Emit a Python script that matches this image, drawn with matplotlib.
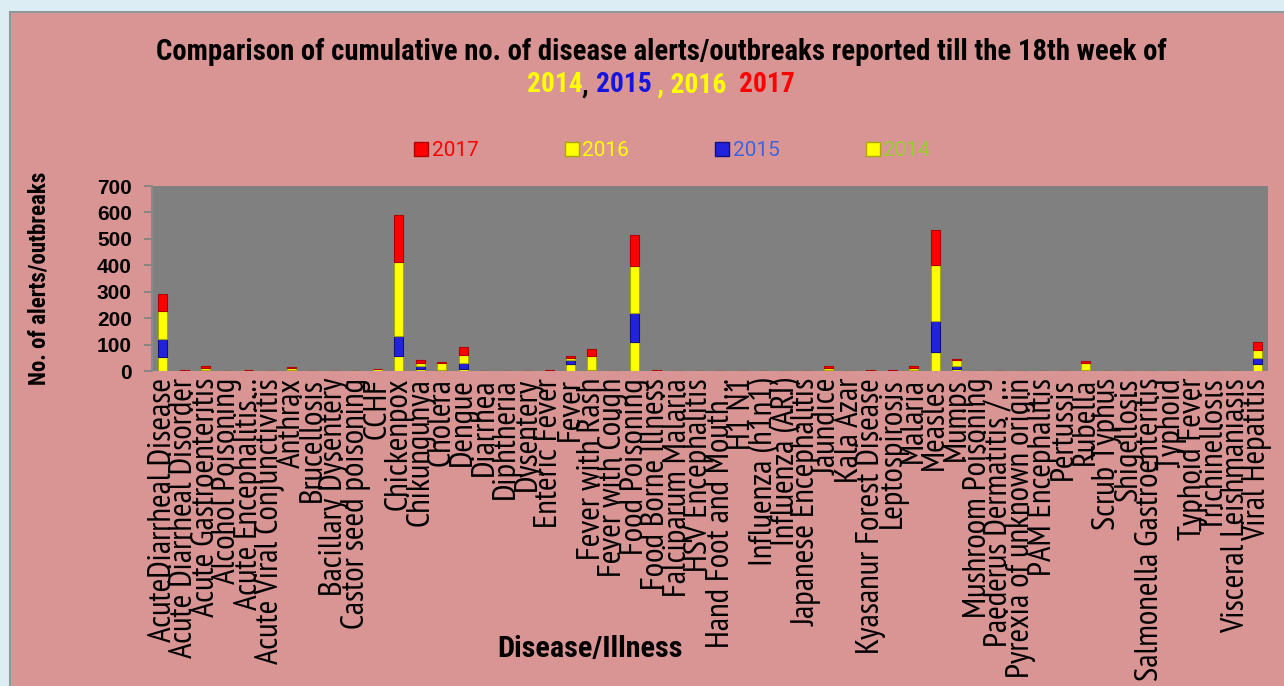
import matplotlib
matplotlib.use("Agg")
import matplotlib.pyplot as plt
from matplotlib.patches import Rectangle
from matplotlib.lines import Line2D
from matplotlib.text import Text
import numpy as np

categories = [
    "AcuteDiarrheal Disease", "Acute Diarrheal Disorder", "Acute Gastroenteritis",
    "Alcohol Poisoning", "Acute Encephalitis…", "Acute Viral Conjunctivitis",
    "Anthrax", "Brucellosis", "Bacillary Dysentery", "Castor seed poisoning",
    "CCHF", "Chickenpox", "Chikungunya", "Cholera", "Dengue", "Diarrhea",
    "Diphtheria", "Dysentery", "Enteric Fever", "Fever", "Fever with Rash",
    "Fever with Cough", "Food Poisoning", "Food Borne Illness",
    "Falciparum Malaria", "HSV Encephalitis", "Hand Foot and Mouth…", "H1 N1",
    "Influenza (h1n1)", "Influenza (ARI)", "Japanese Encephalitis", "Jaundice",
    "Kala Azar", "Kyasanur Forest Disease", "Leptospirosis", "Malaria",
    "Measles", "Mumps", "Mushroom Poisoning", "Paederus Dermatitis /…",
    "Pyrexia of unknown origin", "PAM Encephalitis", "Pertussis", "Rubella",
    "Scrub Typhus", "Shigellosis", "Salmonella Gastroenteritis", "Typhoid",
    "Typhoid Fever", "Trichinellosis", "Visceral Leishmaniasis", "Viral Hepatitis",
]

y2014 = [52, 0, 2, 0, 1, 0, 2, 0, 0, 0, 1, 57, 9, 1, 9, 0, 0, 0, 0, 28, 3, 0, 109, 0,
         0, 0, 0, 0, 0, 0, 0, 3, 0, 0, 0, 4, 71, 6, 0, 0, 0, 0, 0, 4, 0, 0, 0, 0, 0, 0, 0, 28]
y2015 = [69, 0, 0, 0, 0, 0, 0, 0, 0, 0, 0, 75, 10, 3, 21, 0, 0, 0, 0, 13, 2, 0, 112, 0,
         0, 0, 0, 0, 0, 0, 0, 0, 0, 0, 0, 1, 119, 12, 0, 0, 0, 0, 0, 0, 0, 0, 0, 0, 0, 0, 0, 23]
y2016 = [106, 1, 10, 1, 1, 1, 9, 1, 0, 0, 5, 281, 10, 28, 32, 1, 1, 0, 1, 8, 51, 1, 177, 1,
         0, 0, 1, 0, 0, 0, 1, 10, 1, 1, 1, 8, 210, 22, 1, 0, 0, 0, 0, 28, 1, 0, 0, 1, 0, 0, 1, 30]
y2017 = [63, 2, 6, 0, 0, 0, 6, 0, 0, 0, 3, 179, 13, 2, 29, 0, 0, 0, 4, 8, 28, 0, 118, 1,
         0, 0, 0, 0, 0, 0, 0, 5, 0, 1, 3, 5, 135, 4, 0, 1, 0, 0, 0, 4, 0, 0, 0, 0, 0, 0, 0, 29]

series_names = ["2014", "2015", "2016", "2017"]
yticks = [0, 100, 200, 300, 400, 500, 600, 700]

W, H = 1284, 686
fig = plt.figure(figsize=(W / 100, H / 100), dpi=100)
fig.patch.set_facecolor("#DCEEF4")
renderer = fig.canvas.get_renderer()

# pink panel behind everything
panel = Rectangle((10 / W, -0.01), 1.0, 1 - 12 / H + 0.01, transform=fig.transFigure,
                  facecolor="#D99594", edgecolor="#8C9A9C", linewidth=1.5, zorder=-10)
fig.patches.append(panel)

TICKF = ["PT Sans Narrow", "DejaVu Sans"]
BOLDF = ["Roboto Condensed", "DejaVu Sans"]
NUMF = ["Liberation Sans", "DejaVu Sans"]
LEGF = ["Roboto", "DejaVu Sans"]


def fitted_size(s, family, weight, target_px, base=20):
    t = Text(0, 0, s, fontsize=base, family=family, fontweight=weight)
    t.set_figure(fig)
    w = t.get_window_extent(renderer).width
    return base * target_px / w


ax = fig.add_axes([152 / W, 1 - 371 / H, (1268 - 152) / W, (371 - 186) / H])
ax.set_facecolor("#808080")

x = np.arange(len(categories))
fills = ["#FFFF00", "#2222DD", "#FFFF00", "#FF0000"]
edges = ["#A8A800", "#101080", "#A8A800", "#B00000"]
bottom = np.zeros(len(categories))
for vals, fc, ec in zip([y2014, y2015, y2016, y2017], fills, edges):
    v = np.array(vals, dtype=float)
    ax.bar(x, v, width=0.42, bottom=bottom, color=fc, edgecolor=ec, linewidth=0.8, zorder=3)
    bottom += v

ax.set_xlim(-0.5, len(categories) - 0.5)
ax.set_ylim(0, 700)
ax.set_yticks(yticks)
ysz = fitted_size("700", NUMF, "bold", 35)
ax.set_yticklabels([str(t) for t in yticks], fontweight="bold", fontsize=ysz, family=NUMF)
ax.set_xticks(x)
xsz = fitted_size(categories[0], TICKF, "normal", 264)
ax.set_xticklabels(categories, rotation=90, fontsize=xsz, family=TICKF, va="top", ha="center")
ax.tick_params(axis="x", length=0, pad=5)
ax.tick_params(axis="y", length=6, color="#808080", width=1.2, pad=8.5)
for s in ["top", "right", "bottom"]:
    ax.spines[s].set_visible(False)
ax.spines["left"].set_color("#8A8A8A")
ax.spines["left"].set_linewidth(1.5)

ylsz = fitted_size("No. of alerts/outbreaks", BOLDF, "bold", 213)
ax.set_ylabel("No. of alerts/outbreaks", fontsize=ylsz, fontweight="bold", family=BOLDF)
ax.yaxis.set_label_coords(-101 / (1268 - 152), 0.5)

xlsz = fitted_size("Disease/Illness", BOLDF, "bold", 185)
fig.text(590 / W, 1 - 649 / H, "Disease/Illness", fontsize=xlsz, fontweight="bold",
         family=BOLDF, ha="center", va="center")

# title
title1 = "Comparison of cumulative no. of disease alerts/outbreaks reported till the 18th week of"
tsz = fitted_size(title1, BOLDF, "bold", 1005)
fig.text(661 / W, 1 - 52 / H, title1, fontsize=tsz, fontweight="bold", family=BOLDF,
         ha="center", va="center")

pieces = [("2014", "#FFFF00"), (", ", "#000000"), ("2015", "#1515E0"),
          (" , 2016  ", "#FFFF00"), ("2017", "#FF0000")]
line2 = "".join(p[0] for p in pieces)
t2sz = fitted_size(line2, BOLDF, "bold", 268)
widths = []
texts = []
for s, c in pieces:
    t = fig.text(0, 1 - 85 / H, s, fontsize=t2sz, fontweight="bold", family=BOLDF,
                 color=c, ha="left", va="center")
    widths.append(t.get_window_extent(renderer).width)
    texts.append(t)
total = sum(widths)
xpos = 661 - total / 2
for t, w in zip(texts, widths):
    t.set_x(xpos / W)
    xpos += w

# legend
leg_handles = [
    Line2D([], [], marker="s", linestyle="", markersize=10, markerfacecolor="#FF0000", markeredgecolor="#B00000"),
    Line2D([], [], marker="s", linestyle="", markersize=10, markerfacecolor="#FFFF00", markeredgecolor="#A8A800"),
    Line2D([], [], marker="s", linestyle="", markersize=10, markerfacecolor="#2222DD", markeredgecolor="#101080"),
    Line2D([], [], marker="s", linestyle="", markersize=10, markerfacecolor="#FFFF00", markeredgecolor="#A8A800"),
]
leg_labels = ["2017", "2016", "2015", "2014"]
lsz = fitted_size("2017", LEGF, "normal", 47)
leg = fig.legend(leg_handles, leg_labels, loc="center", bbox_to_anchor=(672 / W, 1 - 151 / H),
                 ncol=4, frameon=False, handlelength=0.7, handletextpad=0.15,
                 columnspacing=4.1, prop={"family": LEGF, "size": lsz})
for txt, c in zip(leg.get_texts(), ["#FF0000", "#FFFF00", "#3F63E0", "#9ACD32"]):
    txt.set_color(c)

fig.savefig("out.png", dpi=100, facecolor=fig.get_facecolor())
